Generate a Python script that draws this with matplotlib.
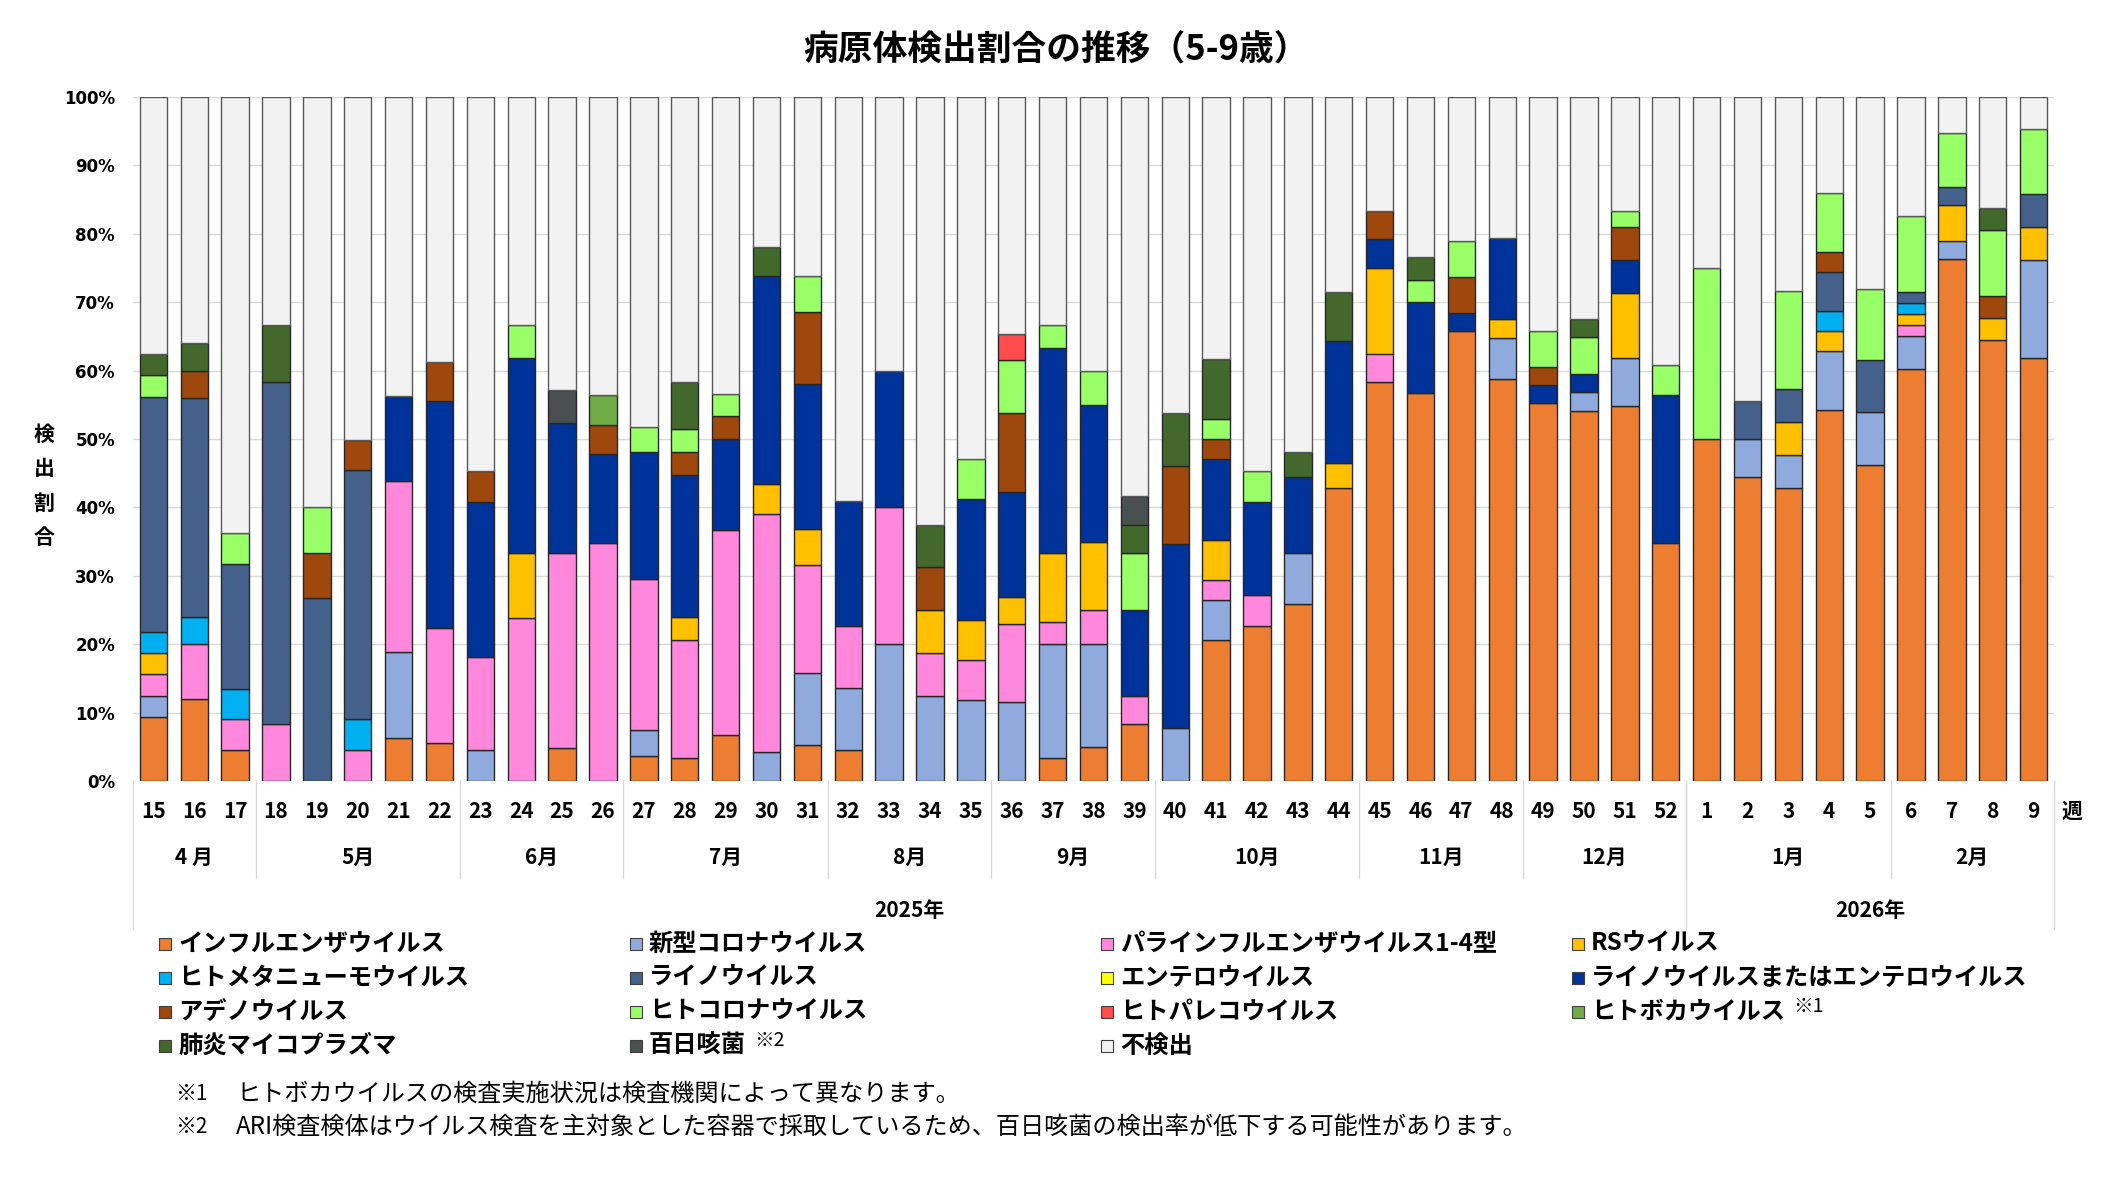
import matplotlib
matplotlib.use("Agg")
import matplotlib.pyplot as plt
from matplotlib.patches import Rectangle
from matplotlib.transforms import blended_transform_factory
import numpy as np

plt.rcParams['font.family'] = ['Noto Sans CJK JP', 'DejaVu Sans']

# weeks (2025 wk15 .. 2026 wk9)
weeks = list(range(15, 53)) + list(range(1, 10))
months = ["4 月", "5月", "6月", "7月", "8月", "9月", "10月", "11月", "12月", "1月", "2月"]
month_len = [3, 5, 4, 5, 4, 4, 5, 4, 4, 5, 4]
years = ["2025年", "2026年"]
year_len = [38, 9]

names = ["インフルエンザウイルス", "新型コロナウイルス", "パラインフルエンザウイルス1-4型", "RSウイルス",
         "ヒトメタニューモウイルス", "ライノウイルス", "エンテロウイルス", "ライノウイルスまたはエンテロウイルス",
         "アデノウイルス", "ヒトコロナウイルス", "ヒトパレコウイルス", "ヒトボカウイルス",
         "肺炎マイコプラズマ", "百日咳菌", "不検出"]
notes = {11: "※1", 13: "※2"}
colors = ["#ED7D31", "#8FAADC", "#FF87DC", "#FFC000",
          "#00B0F0", "#44618C", "#FFFF00", "#003399",
          "#9E480E", "#99FF66", "#FF4B4B", "#70AD47",
          "#43682B", "#4A5050", "#F2F2F2"]

# values in % (rows: 4月,5月,6月,7月,8月,9月,10月,11月,12月,1月,2月)
flu = [9.4, 12.0, 4.5,
       0, 0, 0, 6.3, 5.6,
       0, 0, 4.8, 0,
       3.7, 3.4, 6.7, 0, 5.3,
       4.5, 0, 0, 0,
       0, 3.3, 5.0, 8.3,
       0, 20.6, 22.7, 25.9, 42.9,
       58.3, 56.7, 65.8, 58.8,
       55.3, 54.1, 54.8, 34.8,
       50.0, 44.4, 42.9, 54.3, 46.2,
       60.3, 76.3, 64.5, 61.9]
covid = [3.1, 0, 0,
         0, 0, 0, 12.5, 0,
         4.5, 0, 0, 0,
         3.7, 0, 0, 4.3, 10.5,
         9.1, 20.0, 12.5, 11.8,
         11.5, 16.7, 15.0, 0,
         7.7, 5.9, 0, 7.4, 0,
         0, 0, 0, 5.9,
         0, 2.7, 7.1, 0,
         0, 5.6, 4.8, 8.6, 7.7,
         4.8, 2.6, 0, 14.3]
para = [3.1, 8.0, 4.5,
        8.3, 0, 4.5, 25.0, 16.7,
        13.6, 23.8, 28.6, 34.8,
        22.2, 17.2, 30.0, 34.8, 15.8,
        9.1, 20.0, 6.25, 5.9,
        11.5, 3.3, 5.0, 4.2,
        0, 2.9, 4.5, 0, 0,
        4.2, 0, 0, 0,
        0, 0, 0, 0,
        0, 0, 0, 0, 0,
        1.6, 0, 0, 0]
rsv = [3.1, 0, 0,
       0, 0, 0, 0, 0,
       0, 9.5, 0, 0,
       0, 3.4, 0, 4.3, 5.3,
       0, 0, 6.25, 5.9,
       3.9, 10.0, 10.0, 0,
       0, 5.9, 0, 0, 3.6,
       12.5, 0, 0, 2.9,
       0, 0, 9.5, 0,
       0, 0, 4.8, 2.9, 0,
       1.6, 5.3, 3.2, 4.8]
hmpv = [3.1, 4.0, 4.5,
        0, 0, 4.5, 0, 0,
        0, 0, 0, 0,
        0, 0, 0, 0, 0,
        0, 0, 0, 0,
        0, 0, 0, 0,
        0, 0, 0, 0, 0,
        0, 0, 0, 0,
        0, 0, 0, 0,
        0, 0, 0, 2.9, 0,
        1.6, 0, 0, 0]
rhino = [34.4, 32.0, 18.2,
         50.0, 26.7, 36.4, 0, 0,
         0, 0, 0, 0,
         0, 0, 0, 0, 0,
         0, 0, 0, 0,
         0, 0, 0, 0,
         0, 0, 0, 0, 0,
         0, 0, 0, 0,
         0, 0, 0, 0,
         0, 5.6, 4.8, 5.7, 7.7,
         1.6, 2.6, 0, 4.8]
entero = [0] * 47
rhent = [0, 0, 0,
         0, 0, 0, 12.5, 33.3,
         22.7, 28.6, 19.0, 13.0,
         18.5, 20.7, 13.3, 30.4, 21.1,
         18.2, 20.0, 0, 17.6,
         15.4, 30.0, 20.0, 12.5,
         26.9, 11.8, 13.6, 11.1, 17.9,
         4.2, 13.3, 2.6, 11.8,
         2.6, 2.7, 4.8, 21.7,
         0, 0, 0, 0, 0,
         0, 0, 0, 0]
adeno = [0, 4.0, 0,
         0, 6.7, 4.5, 0, 5.6,
         4.5, 0, 0, 4.3,
         0, 3.4, 3.3, 0, 10.5,
         0, 0, 6.25, 0,
         11.5, 0, 0, 0,
         11.5, 2.9, 0, 0, 0,
         4.2, 0, 5.3, 0,
         2.6, 0, 4.8, 0,
         0, 0, 0, 2.9, 0,
         0, 0, 3.2, 0]
hcov = [3.1, 0, 4.5,
        0, 6.7, 0, 0, 0,
        0, 4.8, 0, 0,
        3.7, 3.4, 3.3, 0, 5.3,
        0, 0, 0, 5.9,
        7.7, 3.3, 5.0, 8.3,
        0, 2.9, 4.5, 0, 0,
        0, 3.3, 5.3, 0,
        5.3, 5.4, 2.4, 4.3,
        25.0, 0, 14.3, 8.6, 10.3,
        11.1, 7.9, 9.7, 9.5]
parecho = [0, 0, 0,
           0, 0, 0, 0, 0,
           0, 0, 0, 0,
           0, 0, 0, 0, 0,
           0, 0, 0, 0,
           3.9, 0, 0, 0,
           0, 0, 0, 0, 0,
           0, 0, 0, 0,
           0, 0, 0, 0,
           0, 0, 0, 0, 0,
           0, 0, 0, 0]
boca = [0, 0, 0,
        0, 0, 0, 0, 0,
        0, 0, 0, 4.3,
        0, 0, 0, 0, 0,
        0, 0, 0, 0,
        0, 0, 0, 0,
        0, 0, 0, 0, 0,
        0, 0, 0, 0,
        0, 0, 0, 0,
        0, 0, 0, 0, 0,
        0, 0, 0, 0]
myco = [3.1, 4.0, 0,
        8.3, 0, 0, 0, 0,
        0, 0, 0, 0,
        0, 6.9, 0, 4.3, 0,
        0, 0, 6.25, 0,
        0, 0, 0, 4.2,
        7.7, 8.8, 0, 3.7, 7.1,
        0, 3.3, 0, 0,
        0, 2.7, 0, 0,
        0, 0, 0, 0, 0,
        0, 0, 3.2, 0]
pert = [0, 0, 0,
        0, 0, 0, 0, 0,
        0, 0, 4.8, 0,
        0, 0, 0, 0, 0,
        0, 0, 0, 0,
        0, 0, 0, 4.2,
        0, 0, 0, 0, 0,
        0, 0, 0, 0,
        0, 0, 0, 0,
        0, 0, 0, 0, 0,
        0, 0, 0, 0]
notdet = [37.6, 36.0, 63.8,
          33.4, 59.9, 50.1, 43.7, 38.8,
          54.7, 33.3, 42.8, 43.6,
          48.2, 41.6, 43.4, 21.9, 26.2,
          59.1, 40.0, 62.5, 52.9,
          34.6, 33.4, 40.0, 58.3,
          46.2, 38.3, 54.7, 51.9, 28.5,
          16.6, 23.4, 21.0, 20.6,
          34.2, 32.4, 16.6, 39.2,
          25.0, 44.4, 28.4, 14.1, 28.1,
          17.4, 5.3, 16.2, 4.7]

series = [flu, covid, para, rsv, hmpv, rhino, entero, rhent,
          adeno, hcov, parecho, boca, myco, pert, notdet]

W, H = 2112, 1177
fig = plt.figure(figsize=(W / 100, H / 100), dpi=100)
ax = fig.add_axes([133 / W, 1 - 781 / H, (2054 - 133) / W, (781 - 97) / H])

x = np.arange(len(weeks))
bottom = np.zeros(len(weeks))
for i, vals in enumerate(series):
    v = np.array(vals, dtype=float)
    m = v > 0
    edge = "#595959" if i == len(series) - 1 else "#262626"
    ax.bar(x[m], v[m], 0.67, bottom=bottom[m], color=colors[i],
           edgecolor=edge, linewidth=1.0, zorder=3)
    bottom += v

ax.set_xlim(-0.5, len(weeks) - 0.5)
ax.set_ylim(0, 100)
ax.set_yticks(range(0, 101, 10))
ax.set_yticklabels([f"{t}%" for t in range(0, 101, 10)],
                   fontsize=12, fontweight="bold", family="DejaVu Sans")
ax.set_xticks([])
ax.tick_params(axis="y", length=0, pad=13)
ax.yaxis.grid(True, color="#D9D9D9", linewidth=1.0)
ax.set_axisbelow(True)
for s in ax.spines.values():
    s.set_visible(False)

# category table under the axis
tr = blended_transform_factory(ax.transData, ax.transAxes)
for i, w in enumerate(weeks):
    ax.text(i, -0.044, str(w), transform=tr, ha="center", va="center",
            fontsize=15, fontweight="bold")
ax.text(len(weeks) - 0.5 + 0.45, -0.044, "週", transform=tr, ha="center",
        va="center", fontsize=15, fontweight="bold")

line_kw = dict(color="#D9D9D9", linewidth=1.0, transform=tr, clip_on=False)
start = 0
for lab, n in zip(months, month_len):
    ax.text(start + (n - 1) / 2, -0.111, lab, transform=tr, ha="center",
            va="center", fontsize=15, fontweight="bold")
    if start > 0:
        ax.plot([start - 0.5, start - 0.5], [0, -0.142], **line_kw)
    start += n
start = 0
for lab, n in zip(years, year_len):
    ax.text(start + (n - 1) / 2, -0.19, lab, transform=tr, ha="center",
            va="center", fontsize=15, fontweight="bold")
    ax.plot([start - 0.5, start - 0.5], [0, -0.216], **line_kw)
    start += n
ax.plot([start - 0.5, start - 0.5], [0, -0.216], **line_kw)

# title and y label
fig.text(0.5, 1 - 50 / H, "病原体検出割合の推移（5-9歳）", ha="center", va="center",
         fontsize=25, fontweight="bold")
fig.text(44 / W, 1 - 486 / H, "検\n出\n割\n合", ha="center", va="center",
         fontsize=15, fontweight="bold", linespacing=1.8)

# legend (row-major, 4 columns)
fig.canvas.draw()
renderer = fig.canvas.get_renderer()
for i, (name, c) in enumerate(zip(names, colors)):
    col, row = i % 4, i // 4
    x0 = (159 + col * 471) / W
    y0 = 1 - (944 + row * 34) / H
    fig.patches.append(Rectangle((x0, y0 - 6 / H), 12 / W, 12 / H, transform=fig.transFigure,
                                 facecolor=c, edgecolor="#404040", linewidth=0.8))
    t = fig.text(x0 + 19 / W, y0, name, ha="left", va="center",
                 fontsize=17.5, fontweight="bold")
    if i in notes:
        bb = t.get_window_extent(renderer)
        fig.text(bb.x1 / W + 8 / W, y0 + 5 / H, notes[i], ha="left", va="center",
                 fontsize=14)

# footnotes
fig.text(175 / W, 1 - 1094 / H, "※1", ha="left", va="center", fontsize=15)
fig.text(236 / W, 1 - 1094 / H, "ヒトボカウイルスの検査実施状況は検査機関によって異なります。",
         ha="left", va="center", fontsize=17.4)
fig.text(175 / W, 1 - 1127 / H, "※2", ha="left", va="center", fontsize=15)
fig.text(236 / W, 1 - 1127 / H,
         "ARI検査検体はウイルス検査を主対象とした容器で採取しているため、百日咳菌の検出率が低下する可能性があります。",
         ha="left", va="center", fontsize=17.4)

fig.savefig("out.png", dpi=100, facecolor="white")
